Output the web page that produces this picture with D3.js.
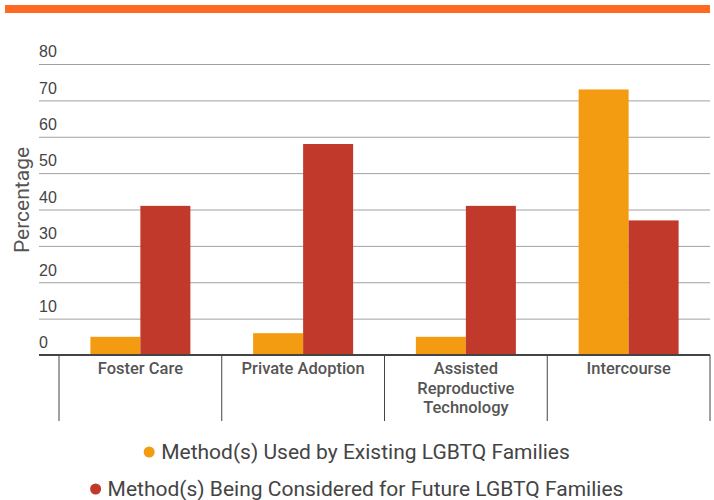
<!DOCTYPE html>
<meta charset="utf-8">
<style>
	body {
		margin: 0;
		background: #fff;
	}
	svg {
		font-family: Roboto, sans-serif;
	}
	.grid line {
		stroke: #a0a0a0;
		stroke-width: 1;
	}
	.grid .domain {
		display: none;
	}
	.grid text {
		font-size: 16px;
		fill: #444;
	}
	.cat text {
		font-size: 16.5px;
		font-weight: 500;
		fill: #555;
	}
	.legend text {
		font-size: 21px;
		fill: #444;
	}
</style>
<script src="https://d3js.org/d3.v7.min.js"></script>
<svg width="714" height="500" class="chart"></svg>
<script>
	var categories = [["Foster Care"], ["Private Adoption"], ["Assisted", "Reproductive", "Technology"], ["Intercourse"]];
	var seriesNames = ["Method(s) Used by Existing LGBTQ Families", "Method(s) Being Considered for Future LGBTQ Families"];
	var existing = [5, 6, 5, 73];
	var considered = [41, 58, 41, 37];
	var yTicks = [0, 10, 20, 30, 40, 50, 60, 70, 80];
	var colors = ["#f39c12", "#c0392b"];

	var svg = d3.select(".chart");

	// orange band across the top
	svg.append("rect")
		.attr("x", 5).attr("y", 5)
		.attr("width", 705).attr("height", 8)
		.attr("fill", "#ff6a22");

	var plotLeft = 59, plotRight = 710, plotTop = 64, plotBottom = 355;

	var x = d3.scaleBand()
		.domain(d3.range(categories.length))
		.range([plotLeft, plotRight]);

	var x1 = d3.scaleBand()
		.domain([0, 1])
		.range([0, 100]);

	var y = d3.scaleLinear()
		.domain([0, 80])
		.range([plotBottom, plotTop]);

	var grid = svg.append("g")
		.attr("class", "grid")
		.attr("transform", "translate(39,0)")
		.call(d3.axisRight(y).tickValues(yTicks).tickSize(plotRight - 39));

	grid.selectAll("text")
		.attr("x", 0)
		.attr("dy", "-0.45em")
		.attr("text-anchor", "start");

	grid.selectAll(".tick")
		.filter(function(d) { return d === 0; })
		.select("line").remove();

	var groups = svg.append("g")
		.selectAll("g")
		.data(categories.map(function(c, i) { return [existing[i], considered[i]]; }))
		.enter().append("g")
			.attr("transform", function(d, i) { return "translate(" + (x(i) + x.bandwidth() / 2 - 50) + ",0)"; });

	groups.selectAll("rect")
		.data(function(d) { return d; })
		.enter().append("rect")
			.attr("x", function(d, j) { return x1(j); })
			.attr("y", function(d) { return y(d); })
			.attr("width", x1.bandwidth())
			.attr("height", function(d) { return plotBottom - y(d); })
			.attr("fill", function(d, j) { return colors[j]; });

	// baseline
	svg.append("line")
		.attr("x1", 39).attr("x2", plotRight)
		.attr("y1", plotBottom).attr("y2", plotBottom)
		.attr("stroke", "#444").attr("stroke-width", 2);

	// category dividers
	var edges = d3.range(categories.length).map(function(i) { return x(i); }).concat([plotRight]);
	svg.append("g")
		.selectAll("line")
		.data(edges)
		.enter().append("line")
			.attr("x1", function(d) { return d; })
			.attr("x2", function(d) { return d; })
			.attr("y1", plotBottom)
			.attr("y2", 421)
			.attr("stroke", "#444")
			.attr("stroke-width", 1);

	var cat = svg.append("g").attr("class", "cat");
	cat.selectAll("text")
		.data(categories)
		.enter().append("text")
			.attr("text-anchor", "middle")
			.attr("x", function(d, i) { return x(i) + x.bandwidth() / 2; })
			.attr("y", 374)
			.each(function(d) {
				var t = d3.select(this);
				d.forEach(function(line, k) {
					t.append("tspan")
						.attr("x", t.attr("x"))
						.attr("dy", k === 0 ? 0 : 19.5)
						.text(line);
				});
			});

	svg.append("text")
		.attr("transform", "rotate(-90)")
		.attr("x", -200)
		.attr("y", 29)
		.attr("text-anchor", "middle")
		.attr("font-size", "21px")
		.attr("fill", "#555")
		.text("Percentage");

	var legend = svg.append("g").attr("class", "legend");
	var items = legend.selectAll("g")
		.data(seriesNames)
		.enter().append("g")
			.attr("transform", function(d, i) { return "translate(0," + (452 + i * 37) + ")"; });

	items.append("text")
		.attr("dy", "0.35em")
		.text(function(d) { return d; });

	items.each(function(d, i) {
		var g = d3.select(this);
		var w = g.select("text").node().getComputedTextLength();
		var total = w + 17;
		var start = 357 - total / 2;
		g.select("text").attr("x", start + 17);
		g.append("circle")
			.attr("cx", start + 5)
			.attr("cy", 0)
			.attr("r", 5.5)
			.attr("fill", colors[i]);
	});
</script>
